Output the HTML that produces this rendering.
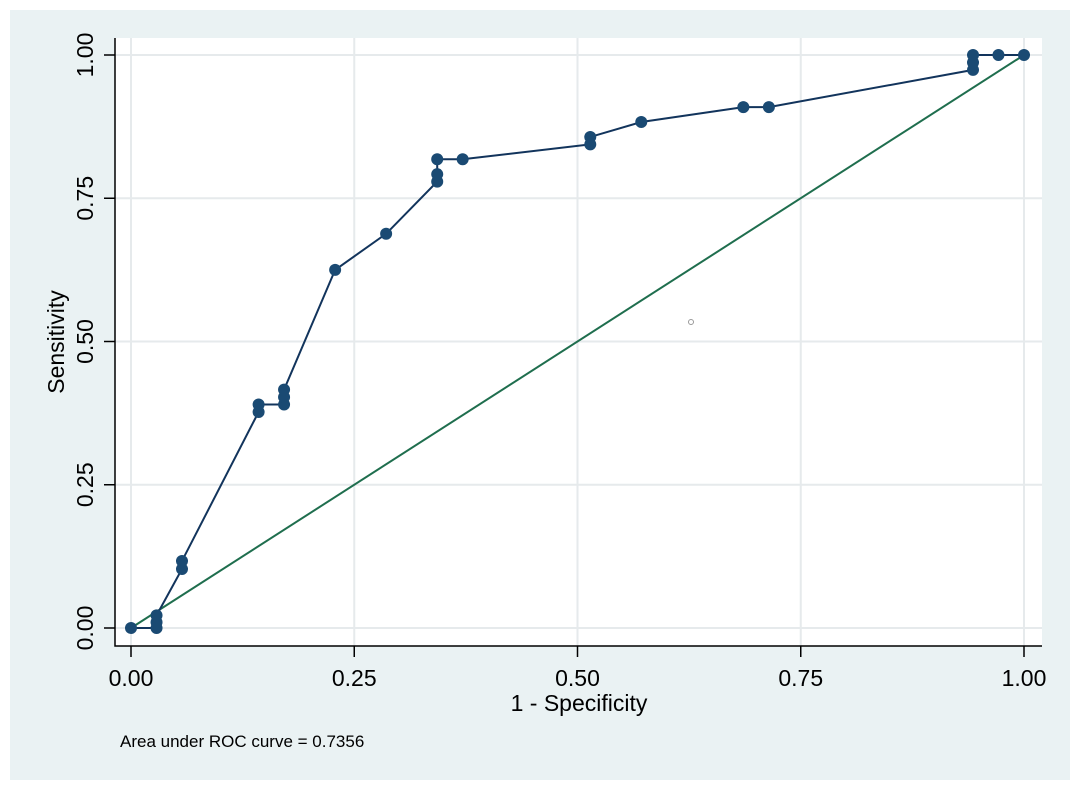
<!DOCTYPE html>
<html><head><meta charset="utf-8"><style>
html,body{margin:0;padding:0;background:#fff;width:1080px;height:791px;overflow:hidden}
svg{display:block;font-family:"Liberation Sans",Arial,sans-serif}
</style></head><body>
<svg width="1080" height="791">
<rect x="10" y="10" width="1060" height="770" fill="#eaf2f3"/>
<rect x="115" y="38" width="927" height="608" fill="#fff"/>
<g id="grid"></g>
<g id="axes"></g>
<g id="series"></g>
<circle cx="691" cy="322" r="2.5" fill="none" stroke="#999" stroke-width="1"/>
<text x="579" y="711" font-size="23" text-anchor="middle" fill="#000">1 - Specificity</text>
<text transform="translate(64,342) rotate(-90)" font-size="23" text-anchor="middle" fill="#000">Sensitivity</text>
<text x="120" y="747" font-size="17" fill="#000">Area under ROC curve = 0.7356</text>
</svg>
<script>
const fprValues=[0,0.0286,0.0286,0.0286,0.0571,0.0571,0.1429,0.1429,0.1714,0.1714,0.1714,0.2286,0.2857,0.3429,0.3429,0.3429,0.3714,0.5143,0.5143,0.5714,0.6857,0.7143,0.9429,0.9429,0.9429,0.9714,1];
const tprValues=[0,0,0.01,0.022,0.103,0.117,0.377,0.39,0.39,0.403,0.416,0.625,0.688,0.779,0.792,0.818,0.818,0.844,0.857,0.883,0.909,0.909,0.974,0.987,1,1,1];
const tickValues=[0,0.25,0.5,0.75,1];
const tickLabels=["0.00","0.25","0.50","0.75","1.00"];
const NS="http://www.w3.org/2000/svg";
const sx=v=>131+v*893, sy=v=>628-v*573;
function mk(t,a,p){const e=document.createElementNS(NS,t);for(const k in a)e.setAttribute(k,a[k]);p.appendChild(e);return e;}
const grid=document.getElementById('grid'),axes=document.getElementById('axes'),ser=document.getElementById('series');
tickValues.forEach((v,i)=>{
 let g=mk('line',{x1:sx(v),x2:sx(v),y1:38,y2:646,stroke:'#e6eaec','stroke-width':2},grid);
 
 
 let h=mk('line',{x1:115,x2:1042,y1:sy(v),y2:sy(v),stroke:'#e6eaec','stroke-width':2},grid);
 
 
 let t1=mk('line',{x1:sx(v),x2:sx(v),y1:646,y2:657,stroke:'#000','stroke-width':1.5},axes);
 
 
 let t2=mk('line',{x1:104,x2:115,y1:sy(v),y2:sy(v),stroke:'#000','stroke-width':1.5},axes);
 
 
 let xl=mk('text',{x:sx(v),y:686,'font-size':23,'text-anchor':'middle',fill:'#000'},axes);xl.textContent=tickLabels[i];
 
 
 let yl=mk('text',{transform:`translate(93,${sy(v)}) rotate(-90)`,'font-size':23,'text-anchor':'middle',fill:'#000'},axes);yl.textContent=tickLabels[i];
 
 
});
let ax=mk('path',{d:'M115 38 V646 H1042',fill:'none',stroke:'#000','stroke-width':1.5},axes);


let ref=mk('line',{x1:sx(0),y1:sy(0),x2:sx(1),y2:sy(1),stroke:'#1f6e4e','stroke-width':2},ser);


let pl=mk('polyline',{points:fprValues.map((f,i)=>sx(f)+','+sy(tprValues[i])).join(' '),fill:'none',stroke:'#12345c','stroke-width':2},ser);


fprValues.forEach((f,i)=>{
 let c=mk('circle',{cx:sx(f),cy:sy(tprValues[i]),r:6,fill:'#1a4a73'},ser);
 
 
});
</script>
</body></html>
